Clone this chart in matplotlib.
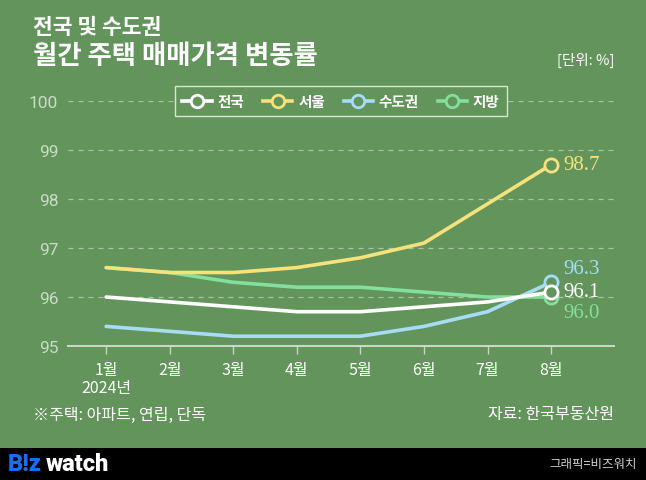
import matplotlib
matplotlib.use("Agg")
import matplotlib.pyplot as plt
from matplotlib.lines import Line2D

plt.rcParams['font.family'] = ['Noto Sans CJK KR', 'DejaVu Sans']

months = ['1월', '2월', '3월', '4월', '5월', '6월', '7월', '8월']
series_names = ['전국', '서울', '수도권', '지방']
nation = [96.0, 95.9, 95.8, 95.7, 95.7, 95.8, 95.9, 96.1]
seoul = [96.6, 96.5, 96.5, 96.6, 96.8, 97.1, 97.9, 98.7]
capital = [95.4, 95.3, 95.2, 95.2, 95.2, 95.4, 95.7, 96.3]
local = [96.6, 96.5, 96.3, 96.2, 96.2, 96.1, 96.0, 96.0]
yticks = [95, 96, 97, 98, 99, 100]

BG = '#62945b'
colors = {'전국': '#ffffff', '서울': '#f6e27a', '수도권': '#a8dcf4', '지방': '#84de9c'}
data = {'전국': nation, '서울': seoul, '수도권': capital, '지방': local}

W, H = 646, 481
fig = plt.figure(figsize=(W / 100, H / 100), dpi=100, facecolor=BG)
ax = fig.add_axes([68 / W, 1 - 347 / H, (614 - 68) / W, (347 - 102) / H])
ax.set_facecolor(BG)

x = list(range(len(months)))
for name in ['지방', '서울', '수도권', '전국']:
    ax.plot(x, data[name], color=colors[name], lw=2.6, solid_capstyle='round', zorder=3)
    ax.plot([x[-1]], [data[name][-1]], marker='o', ms=9.5, mfc=BG, mec=colors[name],
            mew=2.0, ls='none', zorder=4)

ax.set_xlim(-0.6, 7.99)
ax.set_ylim(95, 100)
ax.set_yticks(yticks)
ax.set_yticklabels([str(v) for v in yticks], fontsize=12.5, color='#c9dcc5', family=['Roboto', 'DejaVu Sans'])
ax.set_xticks(x)
ax.set_xticklabels(months, fontsize=11.5, color='white', fontweight='medium')
ax.tick_params(axis='y', length=0, pad=7)
ax.tick_params(axis='x', length=6, width=1, color='#c8d8c4', pad=5)

for v in yticks[1:]:
    ax.axhline(v, color='#a9c6a3', lw=0.9, ls=(0, (4, 4)), zorder=1)

for s in ['top', 'right', 'left']:
    ax.spines[s].set_visible(False)
ax.spines['bottom'].set_color('#c8d8c4')
ax.spines['bottom'].set_linewidth(1.5)

# end labels
label_px = {'서울': 166, '수도권': 270, '전국': 293, '지방': 314}
for name in series_names:
    ax.text(7.19, 95 + (347 - label_px[name]) / 49, f"{data[name][-1]:.1f}", color=colors[name],
            fontsize=15, family='Liberation Serif', va='center', ha='left', zorder=5)

ax.text(0, -0.168, '2024년', transform=ax.get_xaxis_transform(), ha='center', va='center',
        fontsize=11.5, color='white', fontweight='medium')

# legend
handles = [Line2D([0], [0], color=colors[n], lw=2.6, marker='o', ms=9, mfc=BG,
                  mec=colors[n], mew=2.0) for n in series_names]
leg = ax.legend(handles, series_names, loc='center', bbox_to_anchor=(0.5, 1.0), ncol=4,
                frameon=True, fancybox=False, handlelength=2.0, columnspacing=1.3,
                handletextpad=0.4, borderpad=0.5,
                prop={'family': 'Noto Sans CJK KR', 'weight': 'bold', 'size': 10.5})
leg.get_frame().set_facecolor(BG)
leg.get_frame().set_edgecolor('#d8e6d4')
leg.get_frame().set_linewidth(1.0)
leg.get_frame().set_alpha(1)
for t in leg.get_texts():
    t.set_color('white')
leg.set_zorder(6)

# titles
fig.text(33 / W, 1 - 28 / H, '전국 및 수도권', fontsize=15.5, fontweight='black', color='white', va='center', ha='left')
fig.text(33 / W, 1 - 56 / H, '월간 주택 매매가격 변동률', fontsize=19, fontweight='black', color='white', va='center', ha='left')
fig.text(614 / W, 1 - 60 / H, '[단위: %]', fontsize=10.5, color='white', va='center', ha='right')

# footnotes
fig.text(33 / W, 1 - 415 / H, '※주택: 아파트, 연립, 단독', fontsize=11.5, color='white', va='center', ha='left', fontweight='medium')
fig.text(614 / W, 1 - 415 / H, '자료: 한국부동산원', fontsize=11.5, color='white', va='center', ha='right', fontweight='medium')

# footer band
fig.patches.append(plt.Rectangle((0, 0), 1, (481 - 449) / H, transform=fig.transFigure,
                                 facecolor='black', edgecolor='none', zorder=0))
fig.text(8 / W, 1 - 465 / H, 'B!z', fontsize=17, fontweight='black', color='#1a6ef0', va='center', ha='left',
         family=['Roboto', 'DejaVu Sans'])
fig.text(46 / W, 1 - 465 / H, 'watch', fontsize=17, fontweight='black', color='white', va='center', ha='left',
         family=['Roboto', 'DejaVu Sans'])
fig.text(637 / W, 1 - 465 / H, '그래픽=비즈워치', fontsize=9, color='#cfcfcf', va='center', ha='right')

fig.savefig('out.png', dpi=100, facecolor=BG)
